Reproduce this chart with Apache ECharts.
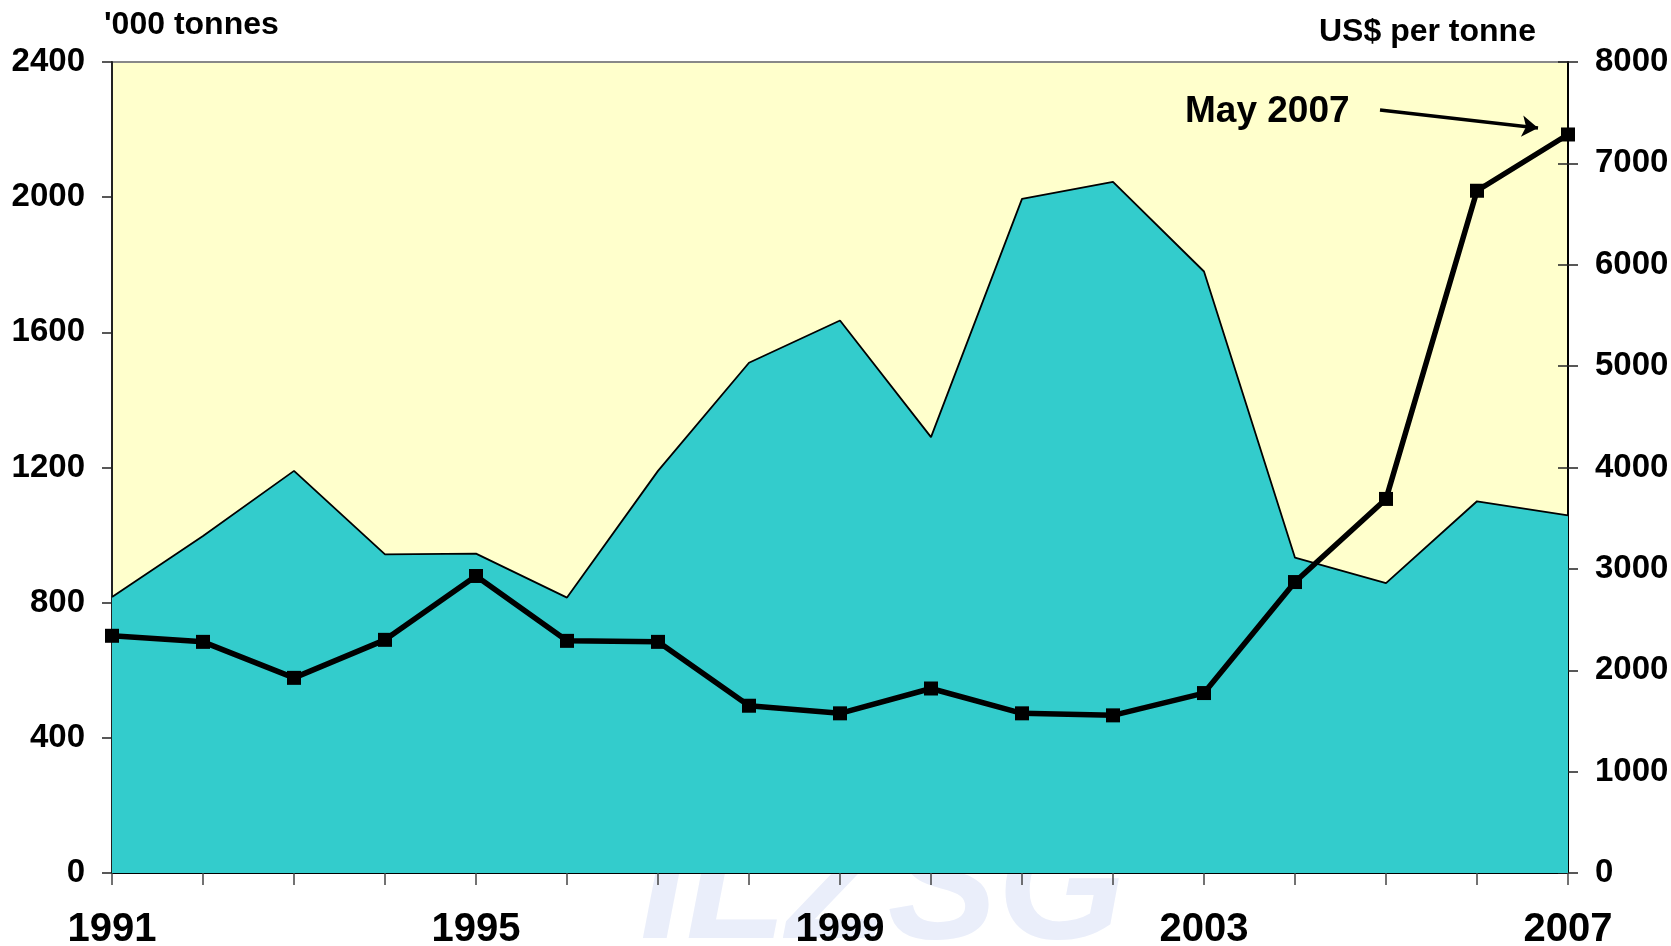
<!DOCTYPE html>
<html>
<head>
<meta charset="utf-8">
<title>Usage and price</title>
<script src="https://cdn.jsdelivr.net/npm/echarts@6/dist/echarts.min.js"></script>
<style>
  html, body { margin: 0; padding: 0; background: #fff; }
  #chart { width: 1671px; height: 946px; }
</style>
</head>
<body>
<div id="chart"></div>
<script>
// data
var years = ['1991', '1992', '1993', '1994', '1995', '1996', '1997', '1998', '1999',
             '2000', '2001', '2002', '2003', '2004', '2005', '2006', '2007'];
var tonnes = [817, 997, 1190, 943, 945, 815, 1190, 1510, 1635,
              1290, 1995, 2045, 1780, 933, 858, 1100, 1058];
var price = [2340, 2280, 1925, 2300, 2930, 2290, 2280, 1650, 1575,
             1820, 1575, 1555, 1775, 2870, 3690, 6730, 7285];

var font = '"Liberation Sans", Arial, sans-serif';
var plain = function (v) { return String(v); };
var chart = echarts.init(document.getElementById('chart'));

chart.setOption({
  animation: false,
  backgroundColor: '#ffffff',
  textStyle: { fontFamily: font },
  grid: {
    left: 112, right: 103, top: 62, bottom: 73,
    outerBoundsMode: 'none',
    containLabel: false,
    show: true,
    backgroundColor: '#FFFFCC',
    borderColor: '#888888',
    borderWidth: 2
  },
  graphic: [
    {
      type: 'text', z: -10, left: 640, top: 810,
      style: { text: 'ILZSG', font: 'italic bold 165px ' + font, fill: '#EAEEFA' }
    },
    {
      type: 'text', left: 104, top: 9,
      style: { text: "'000 tonnes", font: 'bold 32px ' + font, fill: '#000' }
    },
    {
      type: 'text', left: 1319, top: 16,
      style: { text: 'US$ per tonne', font: 'bold 32px ' + font, fill: '#000' }
    },
    {
      type: 'text', left: 1185, top: 93,
      style: { text: 'May 2007', font: 'bold 37px ' + font, fill: '#000' }
    }
  ],
  xAxis: {
    type: 'category',
    data: years,
    boundaryGap: false,
    axisLine: { lineStyle: { color: '#000', width: 2 } },
    axisTick: { alignWithLabel: true, interval: 0, length: 12, lineStyle: { color: '#444', width: 1.5 } },
    axisLabel: {
      interval: 3, margin: 37,
      fontSize: 40, fontWeight: 'bold', color: '#000', fontFamily: font
    },
    splitLine: { show: false }
  },
  yAxis: [
    {
      type: 'value', min: 0, max: 2400, interval: 400, position: 'left',
      axisLine: { show: true, lineStyle: { color: '#222', width: 2 } },
      axisTick: { show: true, length: 10, lineStyle: { color: '#222', width: 1.5 } },
      axisLabel: { margin: 27, fontSize: 33, fontWeight: 'bold', color: '#000', fontFamily: font, formatter: plain },
      splitLine: { show: false }
    },
    {
      type: 'value', min: 0, max: 8000, interval: 1000, position: 'right',
      axisLine: { show: true, lineStyle: { color: '#000', width: 2 } },
      axisTick: { show: true, length: 10, lineStyle: { color: '#222', width: 1.5 } },
      axisLabel: { margin: 27, fontSize: 33, fontWeight: 'bold', color: '#000', fontFamily: font, formatter: plain },
      splitLine: { show: false }
    },
    {
      // inner half of the crossing ticks on the right axis
      type: 'value', min: 0, max: 8000, interval: 1000, position: 'right',
      axisLine: { show: false },
      axisTick: { show: true, inside: true, length: 10, lineStyle: { color: '#222', width: 1.5 } },
      axisLabel: { show: false },
      splitLine: { show: false }
    }
  ],
  series: [
    {
      name: "'000 tonnes",
      type: 'line',
      yAxisIndex: 0,
      data: tonnes,
      showSymbol: false,
      z: 2,
      lineStyle: { color: '#000', width: 1.8 },
      areaStyle: { color: '#33CCCC', opacity: 1 }
    },
    {
      name: 'US$ per tonne',
      type: 'line',
      yAxisIndex: 1,
      data: price,
      symbol: 'rect',
      symbolSize: 14,
      z: 3,
      lineStyle: { color: '#000', width: 5.5 },
      itemStyle: { color: '#000' },
      markLine: {
        silent: true,
        symbol: ['none', 'arrow'],
        symbolSize: 16,
        label: { show: false },
        itemStyle: { color: '#000' },
        lineStyle: { color: '#000', width: 3.5, type: 'solid' },
        data: [[{ x: 1380, y: 110 }, { x: 1538, y: 128 }]]
      }
    }
  ]
});
</script>
</body>
</html>
